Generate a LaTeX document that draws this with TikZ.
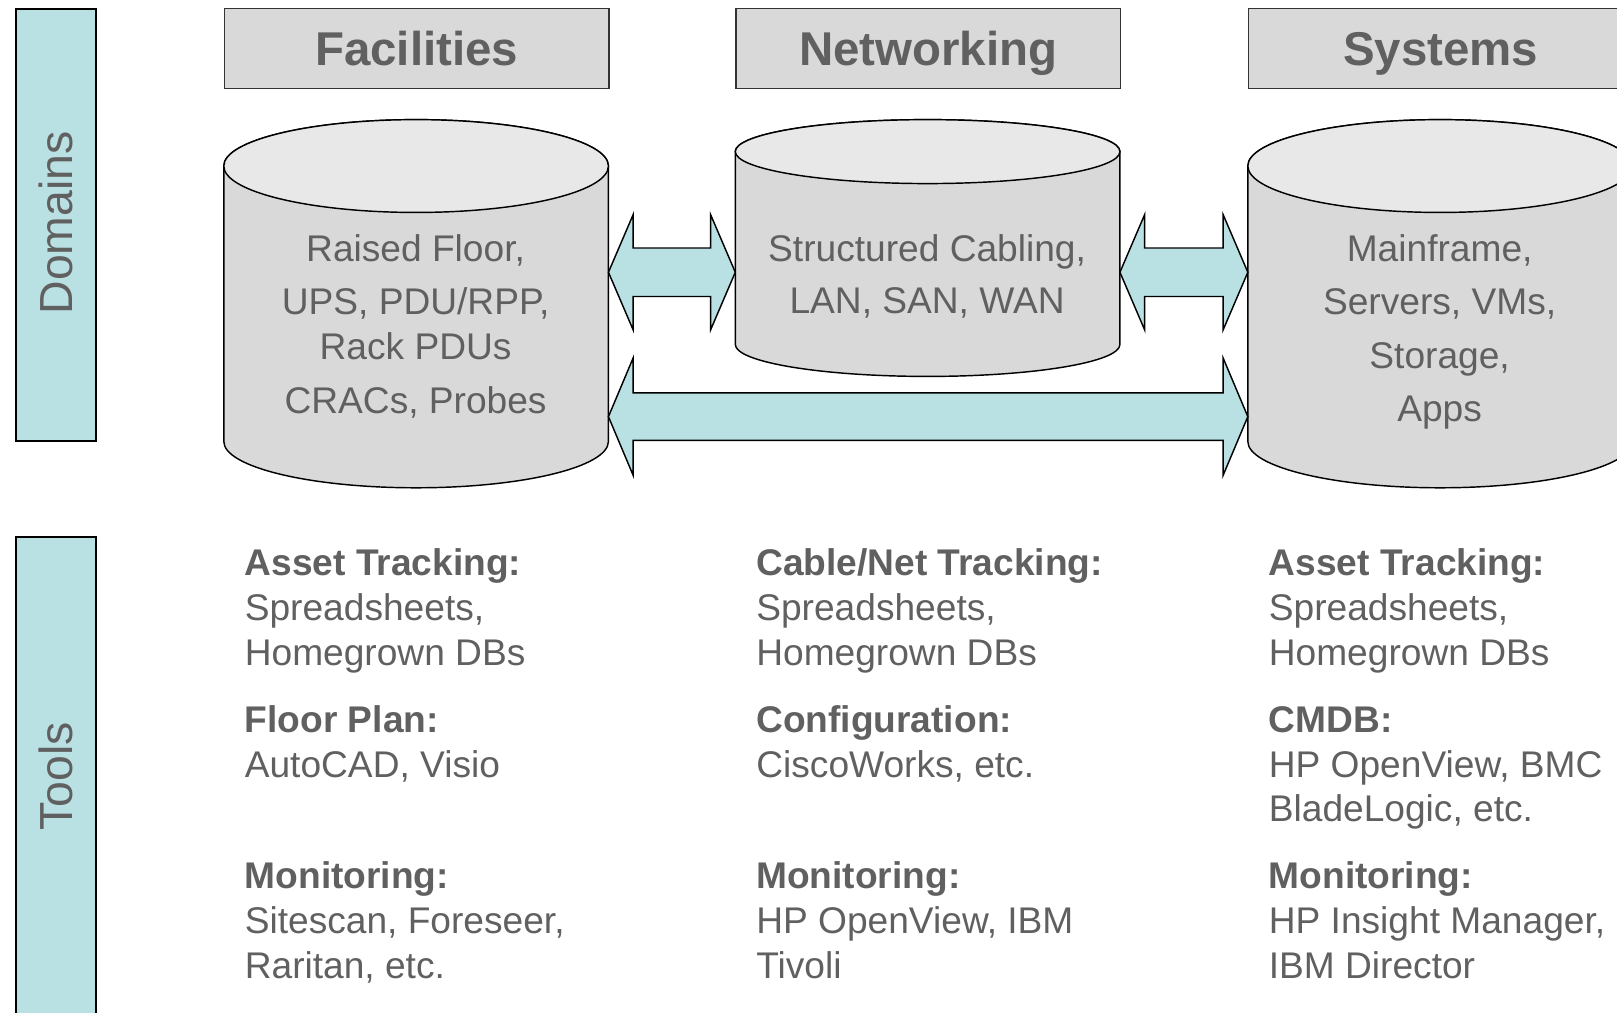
\documentclass[tikz,border=0pt]{standalone}
\usepackage{fontspec}
\setmainfont{Liberation Sans}
\usetikzlibrary{calc}

\definecolor{bandteal}{RGB}{185,224,227}
\definecolor{boxgray}{RGB}{217,217,217}
\definecolor{topgray}{RGB}{232,232,232}
\definecolor{txtgray}{RGB}{96,96,96}

% drum (database cylinder): left x, right x, top centre y, bottom centre y, y radius
\newcommand\drumshape[5]{%
  \path[drumbody] (#1,#3) -- (#1,#4)
    arc[start angle=180,end angle=360,x radius={(#2-#1)*0.25pt},y radius=#5]
    -- (#2,#3)
    arc[start angle=0,end angle=180,x radius={(#2-#1)*0.25pt},y radius=#5] -- cycle;
  \path[drumtop] ({(#1+#2)/2},#3) ellipse[x radius={(#2-#1)*0.25pt},y radius=#5];
}

% two-headed block arrow between two named points: from, to, shaft half height, head half height
\newcommand\linkarrow[4]{%
  \draw[linkshape] (#1) -- ++(24,-#4) -- ++(0,{#4-#3})
    -- ($(#2)+(-24,-#3)$) -- ++(0,{#3-#4}) -- (#2)
    -- ++(-24,#4) -- ++(0,{#3-#4})
    -- ($(#1)+(24,#3)$) -- ++(0,{#4-#3}) -- cycle;
}

\begin{document}
\begin{tikzpicture}[x=0.5pt,y=-0.5pt,
  band/.style={draw=black,line width=0.8pt,fill=bandteal,anchor=north west,
    minimum width=38.5pt,inner sep=0pt},
  bandlabel/.style={text=txtgray,rotate=90,inner sep=0pt,
    font=\fontsize{22.5}{26}\selectfont,text height=16pt,text depth=0pt},
  header/.style={draw=black!80,line width=0.6pt,fill=boxgray,anchor=north west,
    minimum width=186.5pt,minimum height=38.5pt,inner sep=0pt,text=txtgray,
    font=\fontsize{23}{27}\bfseries\selectfont,text height=16.5pt,text depth=0pt},
  drumbody/.style={draw=black,line width=0.7pt,fill=boxgray},
  drumtop/.style={draw=black,line width=0.7pt,fill=topgray},
  drumtext/.style={text=txtgray,inner sep=0pt,anchor=base,
    font=\fontsize{18}{22}\selectfont},
  linkshape/.style={draw=black,line width=0.7pt,fill=bandteal},
  tool/.style={text=txtgray,inner sep=0pt,anchor=base west,
    font=\fontsize{18}{22}\selectfont},
  toolhead/.style={tool,font=\fontsize{18}{22}\bfseries\selectfont}]

\useasboundingbox (0,0) rectangle (1568,982);
\clip (0,0) rectangle (1568,982);

% side bands
\node[band,minimum height=209.5pt] (domband) at (15,8) {};
\node[bandlabel] (domlabel) at (54,216) {Domains};
\node[band,minimum height=240pt] (toolband) at (15,520) {};
\node[bandlabel] (toollabel) at (54,753) {Tools};

% domain headers
\node[header] (hfac) at (217,8) {Facilities};
\node[header] (hnet) at (713,8) {Networking};
\node[header] (hsys) at (1210,8) {Systems};

% domain stores
\drumshape{217}{590}{161}{428}{22.5pt}
\drumshape{713}{1086}{147}{334}{15.5pt}
\drumshape{1210}{1583}{161}{428}{22.5pt}

\node[drumtext] (fac1) at (403,254) {Raised Floor,};
\node[drumtext] (fac2) at (403,305) {UPS, PDU/RPP,};
\node[drumtext] (fac3) at (403,349) {Rack PDUs};
\node[drumtext] (fac4) at (403,401) {CRACs, Probes};

\node[drumtext] (net1) at (899,254) {Structured Cabling,};
\node[drumtext] (net2) at (899,304) {LAN, SAN, WAN};

\node[drumtext] (sys1) at (1396,254) {Mainframe,};
\node[drumtext] (sys2) at (1396,305) {Servers, VMs,};
\node[drumtext] (sys3) at (1396,357) {Storage,};
\node[drumtext] (sys4) at (1396,409) {Apps};

% attachment points on the drum walls
\coordinate (facE) at (590,264);
\coordinate (netW) at (713,264);
\coordinate (netE) at (1086,264);
\coordinate (sysW) at (1210,264);
\coordinate (facE2) at (590,404);
\coordinate (sysW2) at (1210,404);

% links between domains
\linkarrow{facE}{netW}{23.5}{56}
\linkarrow{netE}{sysW}{23.5}{56}
\linkarrow{facE2}{sysW2}{23}{57}

% tools: facilities
\node[toolhead] (ft1) at (237,558) {Asset Tracking:};
\node[tool] (ft2) at (237,602) {Spreadsheets,};
\node[tool] (ft3) at (237,645) {Homegrown DBs};
\node[toolhead] (ft4) at (237,710) {Floor Plan:};
\node[tool] (ft5) at (237,754) {AutoCAD, Visio};
\node[toolhead] (ft6) at (237,862) {Monitoring:};
\node[tool] (ft7) at (237,905) {Sitescan, Foreseer,};
\node[tool] (ft8) at (237,949) {Raritan, etc.};

% tools: networking
\node[toolhead] (nt1) at (733,558) {Cable/Net Tracking:};
\node[tool] (nt2) at (733,602) {Spreadsheets,};
\node[tool] (nt3) at (733,645) {Homegrown DBs};
\node[toolhead] (nt4) at (733,710) {Configuration:};
\node[tool] (nt5) at (733,754) {CiscoWorks, etc.};
\node[toolhead] (nt6) at (733,862) {Monitoring:};
\node[tool] (nt7) at (733,905) {HP OpenView, IBM};
\node[tool] (nt8) at (733,949) {Tivoli};

% tools: systems
\node[toolhead] (st1) at (1230,558) {Asset Tracking:};
\node[tool] (st2) at (1230,602) {Spreadsheets,};
\node[tool] (st3) at (1230,645) {Homegrown DBs};
\node[toolhead] (st4) at (1230,710) {CMDB:};
\node[tool] (st5) at (1230,754) {HP OpenView, BMC};
\node[tool] (st6) at (1230,797) {BladeLogic, etc.};
\node[toolhead] (st7) at (1230,862) {Monitoring:};
\node[tool] (st8) at (1230,905) {HP Insight Manager,};
\node[tool] (st9) at (1230,949) {IBM Director};
\end{tikzpicture}
\end{document}
